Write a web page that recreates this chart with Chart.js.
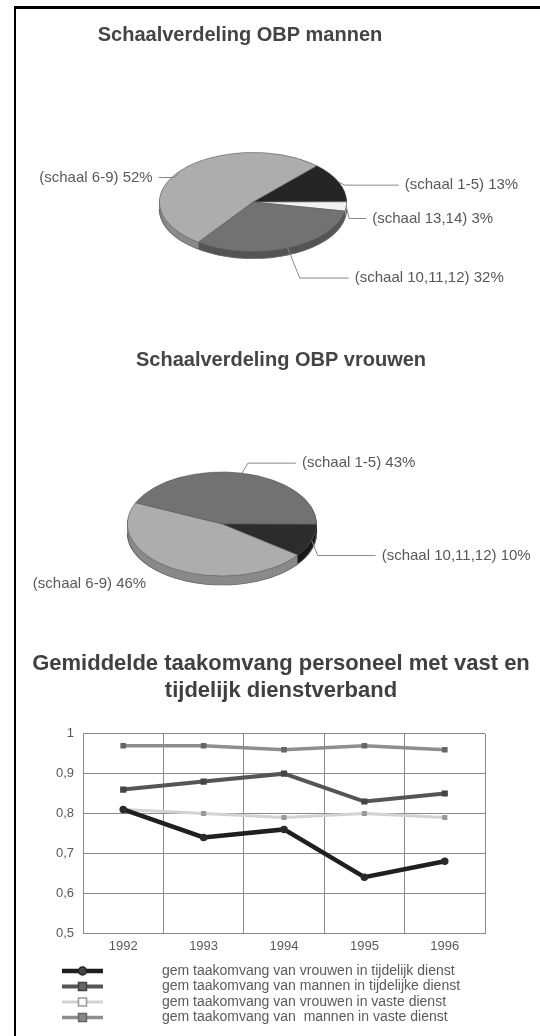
<!DOCTYPE html>
<html>
<head>
<meta charset="utf-8">
<script src="https://cdn.jsdelivr.net/npm/chart.js@4.4.1/dist/chart.umd.min.js"></script>
<style>
  html, body { margin: 0; padding: 0; background: #fff; }
  #page { position: relative; width: 540px; height: 1036px; overflow: hidden; }
  #frame { position: absolute; left: 14px; top: 6px; right: 0; bottom: 0; border-top: 3px solid #000; border-left: 2px solid #000; }
  canvas { position: absolute; left: 0; }
</style>
</head>
<body>
<div id="page">
  <div id="frame"></div>
  <canvas id="mannen" width="540" height="300" style="top:0"></canvas>
  <canvas id="vrouwen" width="540" height="325" style="top:300px"></canvas>
  <canvas id="taak" width="540" height="416" style="top:620px"></canvas>
</div>
<script>
Chart.defaults.font.family = "'Liberation Sans', Arial, sans-serif";
Chart.defaults.color = '#5a5a5a';

// pie: schaalverdeling mannen
const mannenLabels = ['(schaal 1-5)', '(schaal 13,14)', '(schaal 10,11,12)', '(schaal 6-9)'];
const mannenValues = [13, 3, 32, 52];
// pie: schaalverdeling vrouwen
const vrouwenLabels = ['(schaal 1-5)', '(schaal 10,11,12)', '(schaal 6-9)'];
const vrouwenValues = [43, 10, 46];

// line chart
const years = ['1992', '1993', '1994', '1995', '1996'];
const vrouwenTijdelijk = [0.81, 0.74, 0.76, 0.64, 0.68];
const mannenTijdelijk = [0.86, 0.88, 0.90, 0.83, 0.85];
const vrouwenVast = [0.81, 0.80, 0.79, 0.80, 0.79];
const mannenVast = [0.97, 0.97, 0.96, 0.97, 0.96];
const yTickLabels = ['0,5', '0,6', '0,7', '0,8', '0,9', '1'];

const FONT = "'Liberation Sans', Arial, sans-serif";

// flattens the pie to an ellipse, adds a side and draws title + labels
function pie3d(cfg) {
  return {
    id: 'pie3d',
    beforeDatasetsDraw(chart) {
      const ctx = chart.ctx;
      const arcs = chart.getDatasetMeta(0).data;
      const cx = arcs[0].x, cy = arcs[0].y, r = arcs[0].outerRadius;
      ctx.save();
      ctx.translate(cx, cy);
      ctx.scale(1, cfg.tilt);
      ctx.translate(-cx, -cy);
      for (let d = cfg.depth; d > 0; d -= 0.5) {
        const oy = cy + d / cfg.tilt;
        arcs.forEach((arc, i) => {
          ctx.beginPath();
          ctx.moveTo(cx, oy);
          ctx.arc(cx, oy, r, arc.startAngle, arc.endAngle);
          ctx.closePath();
          ctx.fillStyle = cfg.side[i];
          ctx.fill();
        });
      }
      ctx.beginPath();
      ctx.arc(cx, cy + cfg.depth / cfg.tilt, r, 0, Math.PI);
      ctx.lineWidth = 1.2;
      ctx.strokeStyle = '#666';
      ctx.stroke();
    },
    afterDatasetsDraw(chart) {
      chart.ctx.restore();
    },
    afterDraw(chart) {
      const ctx = chart.ctx;
      const arcs = chart.getDatasetMeta(0).data;
      const values = chart.data.datasets[0].data;
      ctx.save();
      ctx.fillStyle = '#444';
      ctx.font = 'bold 20px ' + FONT;
      ctx.textAlign = 'center';
      ctx.textBaseline = 'middle';
      ctx.fillText(cfg.title, cfg.titleX, cfg.titleY);

      ctx.font = '15px ' + FONT;
      ctx.strokeStyle = '#888';
      ctx.lineWidth = 1;
      arcs.forEach((arc, i) => {
        const m = (arc.startAngle + arc.endAngle) / 2;
        const ax = arc.x + arc.outerRadius * Math.cos(m);
        const ay = arc.y + arc.outerRadius * cfg.tilt * Math.sin(m);
        const L = cfg.labels[i];
        const ex = ax + L.elbow[0], ey = ay + L.elbow[1];
        const tx = ex + L.leg * L.side;
        if (L.line) {
          ctx.beginPath();
          ctx.moveTo(ax, ay);
          ctx.lineTo(ex, ey);
          ctx.lineTo(tx, ey);
          ctx.stroke();
        }
        ctx.fillStyle = '#585858';
        ctx.textAlign = L.side > 0 ? 'left' : 'right';
        ctx.fillText(chart.data.labels[i] + ' ' + values[i] + '%', tx + 6 * L.side, ey);
      });
      ctx.restore();
    }
  };
}

const noInteraction = {
  responsive: false,
  animation: false,
  events: [],
};

new Chart(document.getElementById('mannen'), {
  type: 'pie',
  data: {
    labels: mannenLabels,
    datasets: [{
      data: mannenValues,
      backgroundColor: ['#252525', '#f2f2f2', '#727272', '#adadad'],
      borderColor: '#5a5a5a',
      borderWidth: 0.8,
      rotation: 43
    }]
  },
  options: {
    ...noInteraction,
    layout: { padding: { left: 159, right: 193, top: 108, bottom: 4 } },
    plugins: { legend: { display: false }, tooltip: { enabled: false } }
  },
  plugins: [pie3d({
    title: 'Schaalverdeling OBP mannen', titleX: 240, titleY: 35,
    tilt: 0.53, depth: 7,
    side: ['#181818', '#bdbdbd', '#555555', '#8a8a8a'],
    labels: [
      { elbow: [6, 3], leg: 54, side: 1, line: true },
      { elbow: [3, 12], leg: 17, side: 1, line: true },
      { elbow: [12, 30], leg: 49, side: 1, line: true },
      { elbow: [-6, 7], leg: 16, side: -1, line: true }
    ]
  })]
});

new Chart(document.getElementById('vrouwen'), {
  type: 'pie',
  data: {
    labels: vrouwenLabels,
    datasets: [{
      data: vrouwenValues,
      backgroundColor: ['#727272', '#2c2c2c', '#adadad'],
      borderColor: '#5a5a5a',
      borderWidth: 0.8,
      rotation: -66
    }]
  },
  options: {
    ...noInteraction,
    layout: { padding: { left: 127, right: 223, top: 129, bottom: 6 } },
    plugins: { legend: { display: false }, tooltip: { enabled: false } }
  },
  plugins: [pie3d({
    title: 'Schaalverdeling OBP vrouwen', titleX: 281, titleY: 60,
    tilt: 0.55, depth: 9,
    side: ['#555555', '#181818', '#8a8a8a'],
    labels: [
      { elbow: [6, -10], leg: 48, side: 1, line: true },
      { elbow: [6, 15], leg: 58, side: 1, line: true },
      { elbow: [-22, 15], leg: 0, side: -1, line: false }
    ]
  })]
});

// legend rows under the line chart
const legendRows = {
  id: 'legendRows',
  afterDraw(chart) {
    const ctx = chart.ctx;
    const top = chart.chartArea.bottom + 38;
    ctx.save();
    ctx.font = '14px ' + FONT;
    ctx.textBaseline = 'middle';
    ctx.textAlign = 'left';
    chart.data.datasets.forEach((ds, i) => {
      const y = top + i * 15.5;
      ctx.strokeStyle = ds.borderColor;
      ctx.lineWidth = ds.borderWidth;
      ctx.beginPath();
      ctx.moveTo(62, y);
      ctx.lineTo(103, y);
      ctx.stroke();
      ctx.fillStyle = ds.legendFill;
      ctx.strokeStyle = ds.legendStroke;
      ctx.lineWidth = 1.5;
      ctx.beginPath();
      if (ds.pointStyle === 'circle') ctx.arc(82.5, y, 4, 0, Math.PI * 2);
      else ctx.rect(78.5, y - 4, 8, 8);
      ctx.fill();
      ctx.stroke();
      ctx.fillStyle = '#5a5a5a';
      ctx.fillText(ds.label, 162, y);
    });
    ctx.restore();
  }
};

new Chart(document.getElementById('taak'), {
  type: 'line',
  data: {
    labels: years,
    datasets: [
      { label: 'gem taakomvang van vrouwen in tijdelijk dienst', data: vrouwenTijdelijk,
        borderColor: '#1f1f1f', borderWidth: 4.5, pointStyle: 'circle', pointRadius: 1.5,
        pointBackgroundColor: '#2a2a2a', pointBorderColor: '#2a2a2a',
        legendFill: '#444444', legendStroke: '#222222' },
      { label: 'gem taakomvang van mannen in tijdelijke dienst', data: mannenTijdelijk,
        borderColor: '#555555', borderWidth: 4, pointStyle: 'rect', pointRadius: 1.5,
        pointBackgroundColor: '#444444', pointBorderColor: '#444444',
        legendFill: '#666666', legendStroke: '#444444' },
      { label: 'gem taakomvang van vrouwen in vaste dienst', data: vrouwenVast,
        borderColor: '#d2d2d2', borderWidth: 3, pointStyle: 'rect', pointRadius: 1.5,
        pointBackgroundColor: '#999999', pointBorderColor: '#999999',
        legendFill: '#ffffff', legendStroke: '#999999' },
      { label: 'gem taakomvang van  mannen in vaste dienst', data: mannenVast,
        borderColor: '#8e8e8e', borderWidth: 3.5, pointStyle: 'rect', pointRadius: 1.5,
        pointBackgroundColor: '#666666', pointBorderColor: '#666666',
        legendFill: '#888888', legendStroke: '#666666' }
    ]
  },
  options: {
    ...noInteraction,
    layout: { padding: { left: 22, right: 0, top: 0, bottom: 75.4 } },
    plugins: {
      legend: { display: false },
      tooltip: { enabled: false },
      title: {
        display: true,
        text: ['Gemiddelde taakomvang personeel met vast en', 'tijdelijk dienstverband'],
        color: '#404040',
        font: { size: 22, weight: 'bold', lineHeight: 1.2 },
        padding: { top: 31, bottom: 30 }
      }
    },
    scales: {
      x: {
        offset: true,
        grid: { offset: true, color: '#8a8a8a', drawTicks: false },
        border: { color: '#8a8a8a' },
        ticks: { padding: 6, color: '#5a5a5a', font: { size: 13 } }
      },
      y: {
        min: 0.5,
        max: 1,
        afterFit: s => { s.width = 61; },
        grid: { color: '#8a8a8a', drawTicks: false },
        border: { color: '#8a8a8a' },
        ticks: { stepSize: 0.1, padding: 9, color: '#5a5a5a', font: { size: 13 },
          callback: (v, i) => yTickLabels[i] }
      },
      yR: {
        position: 'right',
        afterFit: s => { s.width = 55; },
        grid: { display: false, drawTicks: false },
        border: { display: false },
        ticks: { display: false }
      }
    }
  },
  plugins: [legendRows]
});
</script>
</body>
</html>
